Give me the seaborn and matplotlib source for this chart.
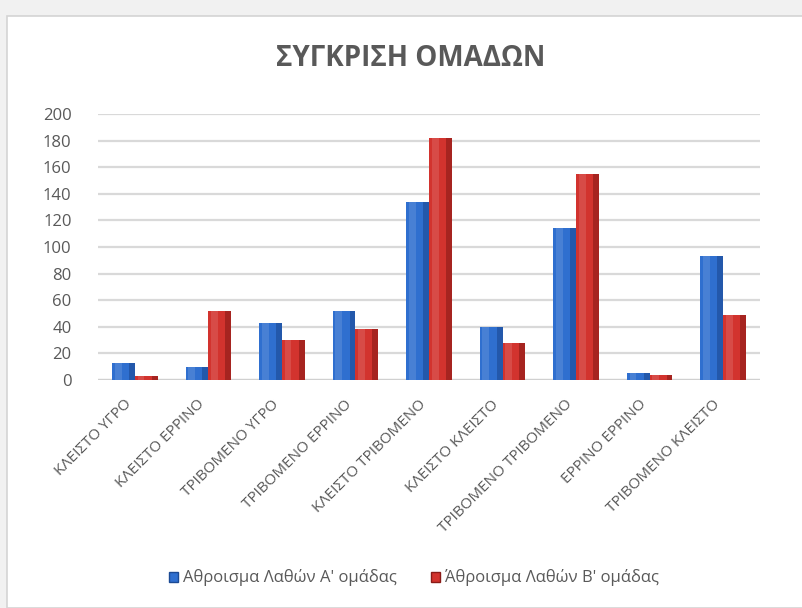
import matplotlib
matplotlib.use("Agg")
import matplotlib.pyplot as plt
from matplotlib.patches import Rectangle
from matplotlib.transforms import ScaledTranslation
import seaborn as sns
import pandas as pd

categories = [
    "ΚΛΕΙΣΤΟ ΥΓΡΟ", "ΚΛΕΙΣΤΟ ΕΡΡΙΝΟ", "ΤΡΙΒΟΜΕΝΟ ΥΓΡΟ", "ΤΡΙΒΟΜΕΝΟ ΕΡΡΙΝΟ",
    "ΚΛΕΙΣΤΟ ΤΡΙΒΟΜΕΝΟ", "ΚΛΕΙΣΤΟ ΚΛΕΙΣΤΟ", "ΤΡΙΒΟΜΕΝΟ ΤΡΙΒΟΜΕΝΟ",
    "ΕΡΡΙΝΟ ΕΡΡΙΝΟ", "ΤΡΙΒΟΜΕΝΟ ΚΛΕΙΣΤΟ",
]
team_a = [13, 10, 43, 52, 134, 40, 114, 5, 93]
team_b = [3, 52, 30, 38, 182, 28, 155, 4, 49]
series_names = ["Αθροισμα Λαθών Α' ομάδας", "Άθροισμα Λαθών Β' ομάδας"]
y_ticks = [0, 20, 40, 60, 80, 100, 120, 140, 160, 180, 200]
title = "ΣΥΓΚΡΙΣΗ ΟΜΑΔΩΝ"

df = pd.DataFrame({
    "category": categories * 2,
    "value": team_a + team_b,
    "series": [series_names[0]] * len(categories) + [series_names[1]] * len(categories),
})

sns.set_theme(style="white")
plt.rcParams["font.family"] = ["Open Sans", "DejaVu Sans"]

front = {series_names[0]: "#2f6fcf", series_names[1]: "#d2332e"}
side = {series_names[0]: "#1b4a94", series_names[1]: "#8a1b18"}

fig = plt.figure(figsize=(8.03, 6.08), dpi=100, facecolor="#f1f1f1")
# white chart card with a thin grey frame
card = Rectangle((7 / 803, 0), 1.0, 1 - 16 / 608, transform=fig.transFigure,
                 facecolor="white", edgecolor="#d4d4d4", linewidth=1.2, zorder=-10)
fig.add_artist(card)

ax = fig.add_axes([98 / 803, 1 - 380 / 608, (760 - 98) / 803, (380 - 114) / 608])
ax.set_zorder(1)
ax.set_facecolor("none")

sns.barplot(data=df, x="category", y="value", hue="series", palette=front,
            saturation=1, width=0.62, gap=0.0, ax=ax, legend=False, zorder=3,
            linewidth=0)

# darker right-hand face and a soft highlight on every bar for a bevelled look
for p in list(ax.patches):
    fc = p.get_facecolor()
    shade = side[series_names[0]] if fc[2] > fc[0] else side[series_names[1]]
    x, y = p.get_x(), p.get_y()
    w, h = p.get_width(), p.get_height()
    ax.add_patch(Rectangle((x + w * 0.74, y), w * 0.26, h, facecolor=shade,
                           edgecolor="none", alpha=0.6, zorder=4))
    ax.add_patch(Rectangle((x + w * 0.12, y), w * 0.3, h, facecolor="white",
                           edgecolor="none", alpha=0.12, zorder=4))

ax.set_ylim(0, 200)
ax.set_xlim(-0.5, len(categories) - 0.5)
ax.set_yticks(y_ticks)
ax.yaxis.grid(True, color="#d9d9d9", linewidth=1.6, zorder=0)
ax.set_axisbelow(True)
for s in ax.spines.values():
    s.set_visible(False)
ax.axhline(0, color="#d0d0d0", linewidth=1.6, zorder=2)

ax.set_xlabel("")
ax.set_ylabel("")
ax.tick_params(axis="y", colors="#595959", labelsize=12, length=0, pad=19)
ax.tick_params(axis="x", colors="#595959", labelsize=11, length=0, pad=10)
ax.set_xticks(range(len(categories)))
ax.set_xticklabels(categories, rotation=45, ha="right", rotation_mode="anchor")
shift = ScaledTranslation(-11 / 100, -3 / 100, fig.dpi_scale_trans)
for lbl in ax.get_xticklabels():
    lbl.set_transform(lbl.get_transform() + shift)

fig.text(411 / 803, 1 - 58 / 608, title, ha="center", va="center", fontsize=20,
         fontweight="bold", color="#595959")

handles = [Rectangle((0, 0), 1, 1, facecolor=front[n], edgecolor=side[n], linewidth=1)
           for n in series_names]
fig.legend(handles, series_names, loc="center", bbox_to_anchor=(414 / 803, 1 - 578 / 608),
           ncol=2, frameon=False, fontsize=12, handlelength=0.55, handleheight=0.55,
           handletextpad=0.3, columnspacing=2.0, labelcolor="#595959")

fig.savefig("out.png", dpi=100, facecolor=fig.get_facecolor())
